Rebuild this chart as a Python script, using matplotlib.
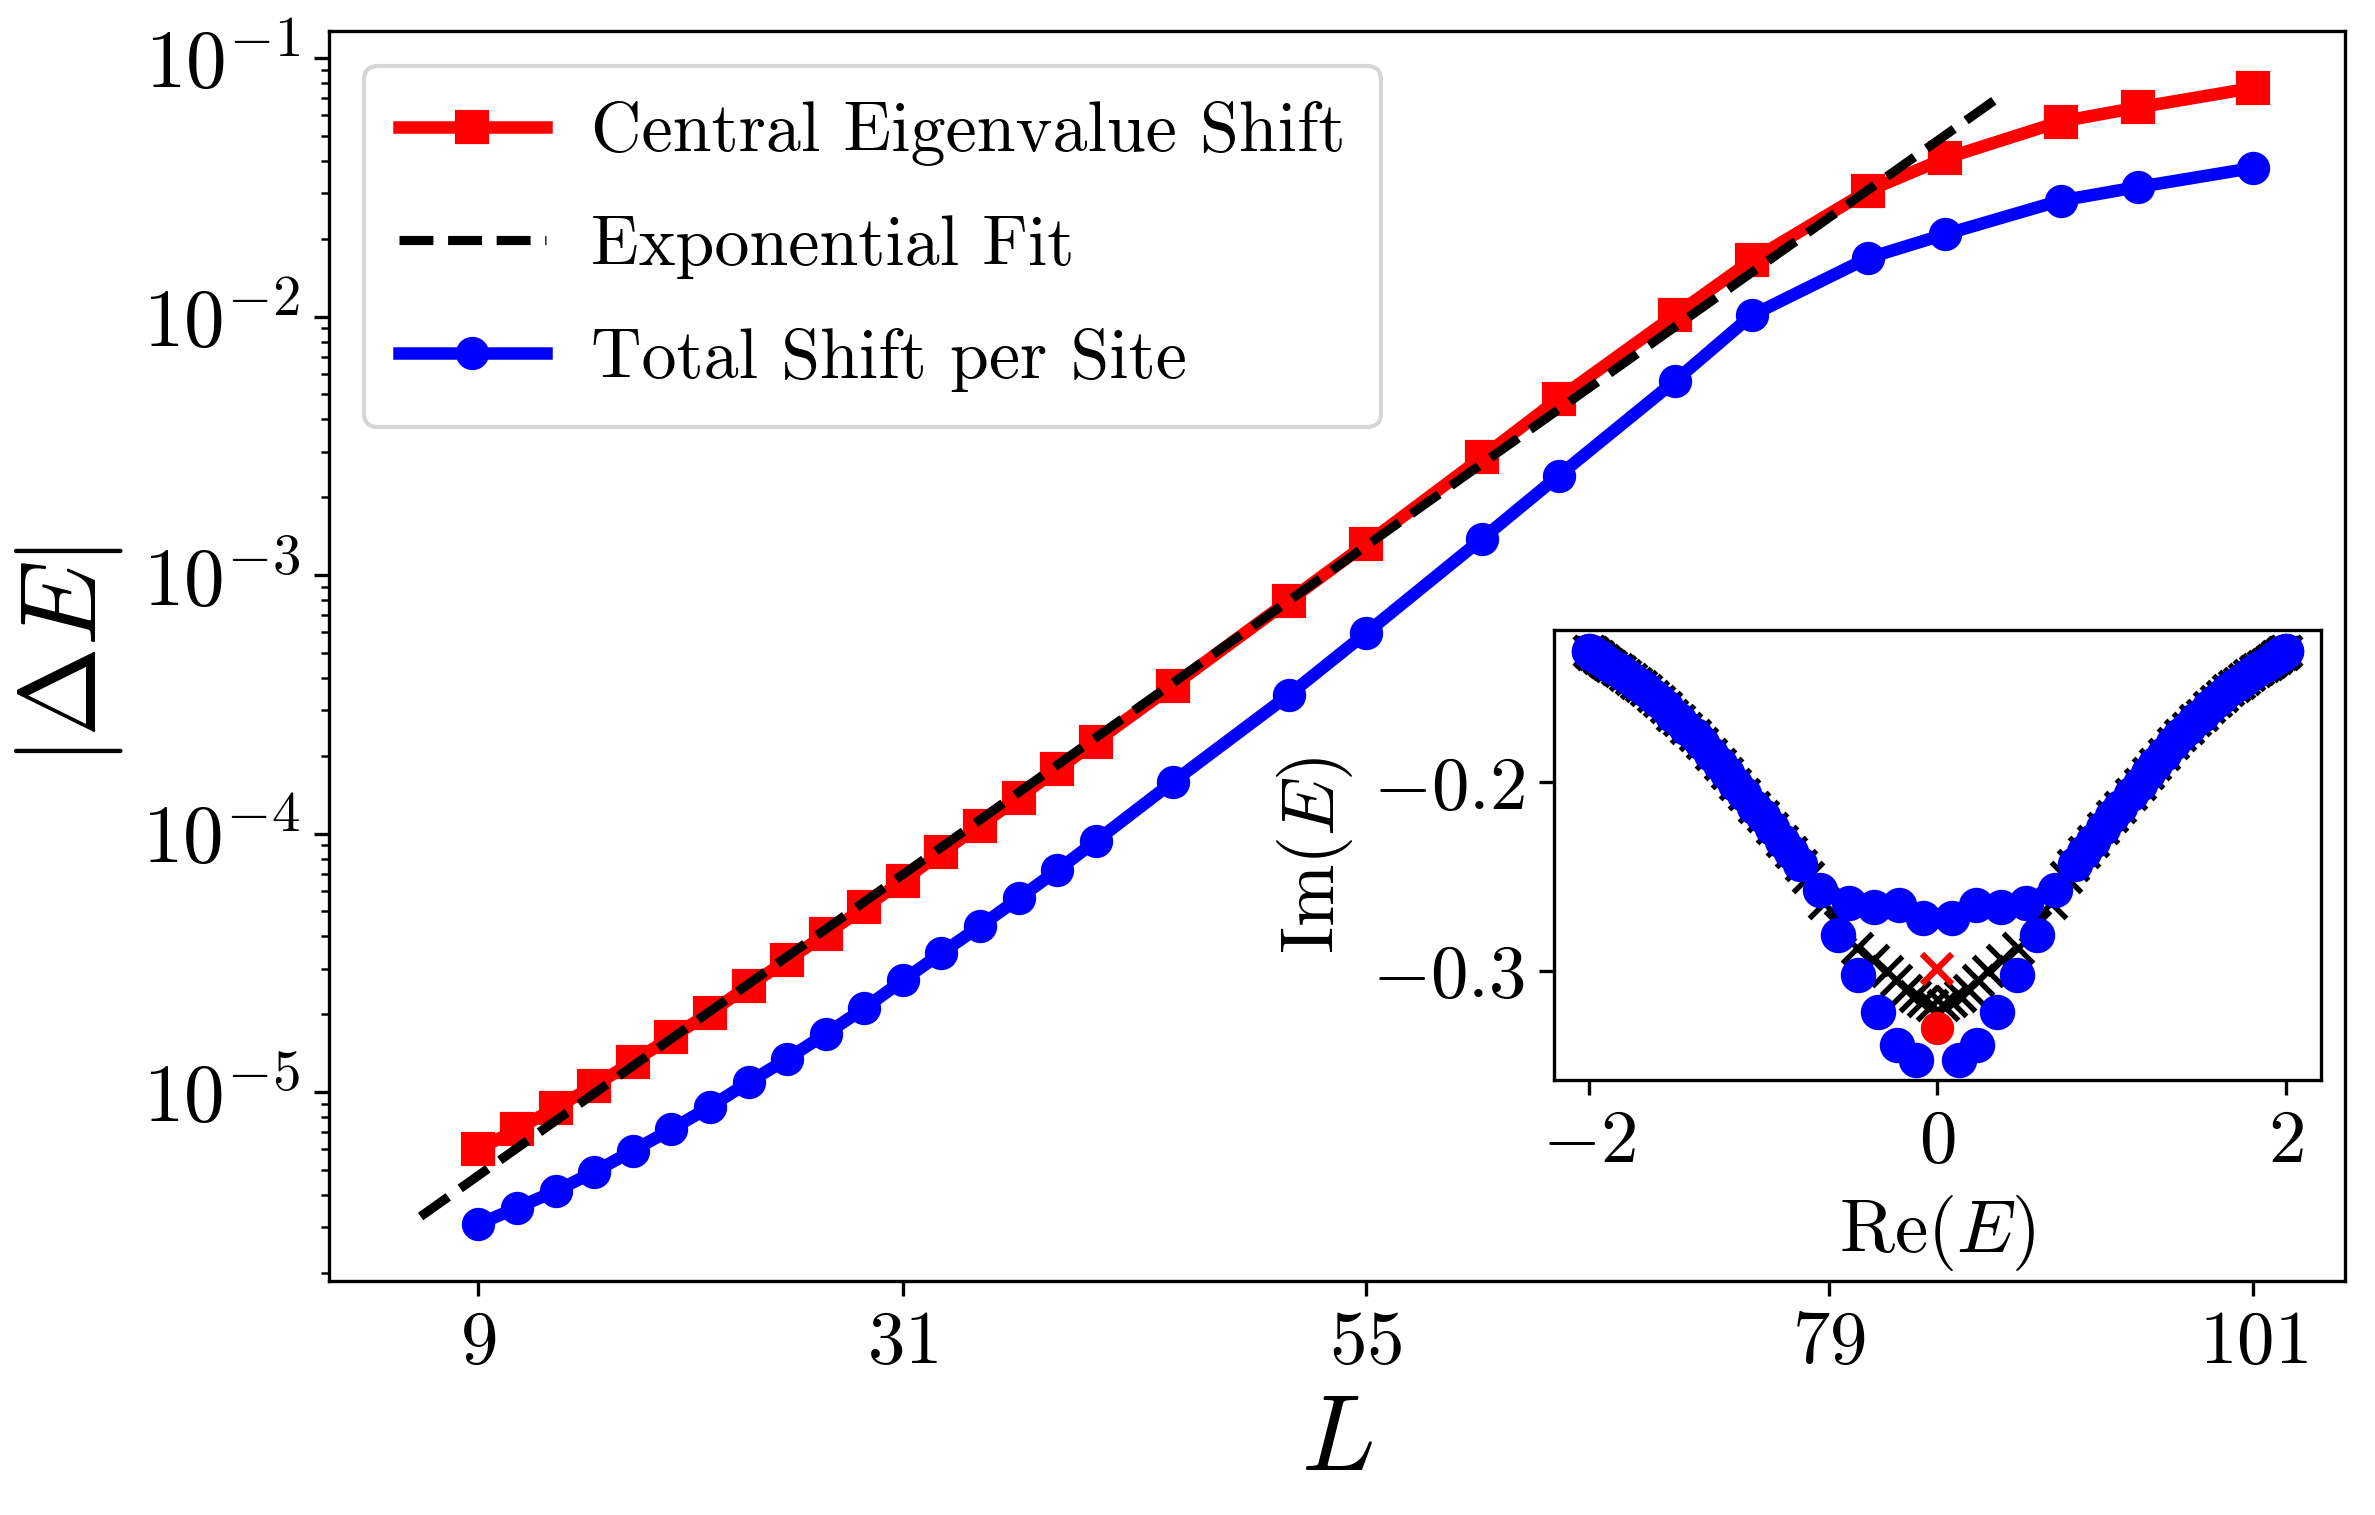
import numpy as np
import matplotlib
matplotlib.use("Agg")
import matplotlib.pyplot as plt
from matplotlib.ticker import NullFormatter

plt.rcParams['font.family'] = 'serif'
plt.rcParams['font.serif'] = ['cmr10']
plt.rcParams['mathtext.fontset'] = 'cm'
plt.rcParams['axes.unicode_minus'] = False

# main panel: shift of the eigenvalues vs. system size
L_vals = [9, 11, 13, 15, 17, 19, 21, 23, 25, 27, 29, 31, 33, 35, 37, 39, 41,
          45, 51, 55, 61, 65, 71, 75, 81, 85, 91, 95, 101]
central_shift = [6.00e-6, 7.18e-6, 8.69e-6, 1.057e-5, 1.312e-5, 1.629e-5, 2.028e-5,
                 2.576e-5, 3.236e-5, 4.074e-5, 5.176e-5, 6.577e-5, 8.45e-5, 1.074e-4,
                 1.377e-4, 1.770e-4, 2.270e-4, 3.733e-4, 7.96e-4, 1.318e-3, 2.851e-3,
                 4.82e-3, 1.012e-2, 1.652e-2, 3.06e-2, 4.09e-2, 5.68e-2, 6.44e-2, 7.67e-2]
total_shift = [3.08e-6, 3.57e-6, 4.14e-6, 4.91e-6, 5.93e-6, 7.18e-6, 8.77e-6,
               1.091e-5, 1.343e-5, 1.679e-5, 2.109e-5, 2.704e-5, 3.451e-5, 4.385e-5,
               5.61e-5, 7.21e-5, 9.35e-5, 1.585e-4, 3.436e-4, 5.96e-4, 1.377e-3,
               2.427e-3, 5.62e-3, 1.012e-2, 1.683e-2, 2.080e-2, 2.81e-2, 3.17e-2, 3.76e-2]
# exponential fit is a straight line on the log axis -> two end points
L_fit = [6.0, 87.7]
fit_shift = [3.30e-6, 6.97e-2]

xticks = [9, 31, 55, 79, 101]
xtick_labels = [r'$9$', r'$31$', r'$55$', r'$79$', r'$101$']
yticks = [1e-5, 1e-4, 1e-3, 1e-2, 1e-1]
ytick_labels = [r'$10^{-5}$', r'$10^{-4}$', r'$10^{-3}$', r'$10^{-2}$', r'$10^{-1}$']

# inset: spectrum without (x) and with (o) the perturbation
unpert_re = [-2.00, -2.00, -1.99, -1.98, -1.98, -1.97, -1.95, -1.94, -1.92, -1.91,
             -1.89, -1.87, -1.84, -1.82, -1.79, -1.76, -1.73, -1.70, -1.67, -1.63,
             -1.60, -1.56, -1.52, -1.48, -1.44, -1.39, -1.35, -1.30, -1.25, -1.21,
             -1.16, -1.11, -1.05, -1.00, -0.95, -0.89, -0.84, -0.78, -0.74, -0.65,
             -0.56, -0.46, -0.37, -0.29, -0.235, -0.18, -0.13, -0.08, -0.03,
             0.03, 0.08, 0.13, 0.18, 0.235, 0.29, 0.37, 0.46, 0.56, 0.65,
             0.74, 0.78, 0.84, 0.89, 0.95, 1.00, 1.05, 1.11, 1.16, 1.21,
             1.25, 1.30, 1.35, 1.39, 1.44, 1.48, 1.52, 1.56, 1.60, 1.63,
             1.67, 1.70, 1.73, 1.76, 1.79, 1.82, 1.84, 1.87, 1.89, 1.91,
             1.92, 1.94, 1.95, 1.97, 1.98, 1.98, 1.99, 2.00, 2.00]
unpert_im = [-0.130, -0.130, -0.131, -0.131, -0.132, -0.132, -0.133, -0.134, -0.135, -0.136,
             -0.137, -0.138, -0.140, -0.141, -0.143, -0.145, -0.147, -0.149, -0.151, -0.154,
             -0.157, -0.160, -0.164, -0.167, -0.171, -0.175, -0.179, -0.185, -0.190, -0.195,
             -0.201, -0.206, -0.213, -0.218, -0.224, -0.231, -0.237, -0.244, -0.250, -0.264,
             -0.276, -0.288, -0.294, -0.300, -0.305, -0.310, -0.313, -0.316, -0.318,
             -0.318, -0.316, -0.313, -0.310, -0.305, -0.300, -0.294, -0.288, -0.276, -0.264,
             -0.250, -0.244, -0.237, -0.231, -0.224, -0.218, -0.213, -0.206, -0.201, -0.195,
             -0.190, -0.185, -0.179, -0.175, -0.171, -0.167, -0.164, -0.160, -0.157, -0.154,
             -0.151, -0.149, -0.147, -0.145, -0.143, -0.141, -0.140, -0.138, -0.137, -0.136,
             -0.135, -0.134, -0.133, -0.132, -0.132, -0.131, -0.131, -0.130, -0.130]
pert_re = [-2.00, -2.00, -1.99, -1.98, -1.98, -1.97, -1.95, -1.94, -1.92, -1.91,
           -1.89, -1.87, -1.84, -1.82, -1.79, -1.76, -1.73, -1.70, -1.67, -1.63,
           -1.60, -1.56, -1.52, -1.48, -1.44, -1.39, -1.35, -1.30, -1.25, -1.21,
           -1.16, -1.11, -1.05, -1.00, -0.95, -0.89, -0.84, -0.79,
           -0.675, -0.507, -0.363, -0.220, -0.083,
           -0.573, -0.455, -0.340, -0.229, -0.124,
           0.124, 0.229, 0.340, 0.455, 0.573,
           0.083, 0.220, 0.363, 0.507, 0.675,
           0.79, 0.84, 0.89, 0.95, 1.00, 1.05, 1.11, 1.16, 1.21,
           1.25, 1.30, 1.35, 1.39, 1.44, 1.48, 1.52, 1.56, 1.60, 1.63,
           1.67, 1.70, 1.73, 1.76, 1.79, 1.82, 1.84, 1.87, 1.89, 1.91,
           1.92, 1.94, 1.95, 1.97, 1.98, 1.98, 1.99, 2.00, 2.00]
pert_im = [-0.130, -0.130, -0.131, -0.131, -0.132, -0.132, -0.133, -0.134, -0.135, -0.136,
           -0.137, -0.138, -0.140, -0.141, -0.143, -0.145, -0.147, -0.149, -0.151, -0.154,
           -0.157, -0.160, -0.164, -0.167, -0.171, -0.175, -0.179, -0.185, -0.190, -0.195,
           -0.201, -0.206, -0.213, -0.218, -0.224, -0.231, -0.237, -0.243,
           -0.257, -0.264, -0.266, -0.265, -0.272,
           -0.281, -0.302, -0.322, -0.339, -0.347,
           -0.347, -0.339, -0.322, -0.302, -0.281,
           -0.272, -0.265, -0.266, -0.264, -0.257,
           -0.243, -0.237, -0.231, -0.224, -0.218, -0.213, -0.206, -0.201, -0.195,
           -0.190, -0.185, -0.179, -0.175, -0.171, -0.167, -0.164, -0.160, -0.157, -0.154,
           -0.151, -0.149, -0.147, -0.145, -0.143, -0.141, -0.140, -0.138, -0.137, -0.136,
           -0.135, -0.134, -0.133, -0.132, -0.132, -0.131, -0.131, -0.130, -0.130]
central_unpert = (0.0, -0.299)
central_pert = (0.0, -0.330)

inset_xticks = [-2, 0, 2]
inset_xtick_labels = [r'$-2$', r'$0$', r'$2$']
inset_yticks = [-0.3, -0.2]
inset_ytick_labels = [r'$-0.3$', r'$-0.2$']

fig = plt.figure(figsize=(2375 / 300, 1515 / 300), dpi=300)
ax = fig.add_axes([0.1385, 0.1544, 0.8489, 0.8251])

ax.plot(L_vals, central_shift, '-s', color='red', lw=3, ms=7, label='Central Eigenvalue Shift')
ax.plot(L_fit, fit_shift, '--', color='black', lw=2.2, label='Exponential Fit')
ax.plot(L_vals, total_shift, '-o', color='blue', lw=3, ms=7, label='Total Shift per Site')
ax.set_yscale('log')
ax.set_xticks(xticks, xtick_labels, fontsize=18)
ax.set_yticks(yticks, ytick_labels, fontsize=19.5)
ax.yaxis.set_minor_formatter(NullFormatter())
ax.set_xlabel(r'$L$', fontsize=26)
ax.set_ylabel(r'$|\Delta E|$', fontsize=26)
ax.legend(loc='upper left', fontsize=16.8, handlelength=2.1, handletextpad=0.65,
          labelspacing=0.7, borderpad=0.5)

# inset
axin = fig.add_axes([0.6543, 0.2871, 0.3229, 0.297])
axin.plot(unpert_re, unpert_im, 'x', color='black', ms=7, mew=1.3)
axin.plot(pert_re, pert_im, 'o', color='blue', ms=7.5)
axin.plot(central_unpert[0], central_unpert[1], 'x', color='red', ms=7, mew=1.5)
axin.plot(central_pert[0], central_pert[1], 'o', color='red', ms=7)
axin.set_xticks(inset_xticks, inset_xtick_labels, fontsize=18)
axin.set_yticks(inset_yticks, inset_ytick_labels, fontsize=18)
axin.set_xlabel(r'$\mathrm{Re}(E)$', fontsize=18)
axin.set_ylabel(r'$\mathrm{Im}(E)$', fontsize=18)

fig.savefig('out.png', dpi=300)
